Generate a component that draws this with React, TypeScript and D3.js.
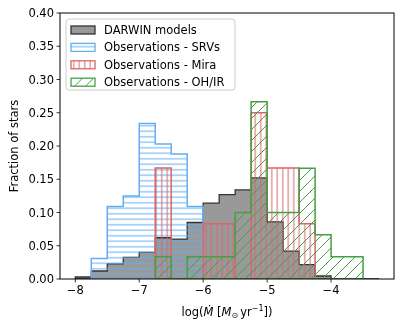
import * as d3 from 'd3';
import React from 'react';

// bins: width 0.25 starting at log Mdot = -8
const binStart = -8;
const binWidth = 0.25;

const darwin = [0.003, 0.012, 0.0226, 0.0326, 0.04, 0.062, 0.06, 0.085, 0.114, 0.127, 0.134, 0.152, 0.086, 0.042, 0.0215, 0.0045, 0, 0, 0];
const srvs = [0, 0.031, 0.109, 0.125, 0.234, 0.203, 0.188, 0.109];
const mira = [0, 0, 0, 0, 0, 0.167, 0, 0, 0.083, 0.083, 0, 0.25, 0.167, 0.167, 0.083];
const ohir = [0, 0, 0, 0, 0, 0.0333, 0, 0.0333, 0.0333, 0.0333, 0.1, 0.2667, 0.1, 0.1, 0.1667, 0.0667, 0.0333, 0.0333];

const xTicks = [-8, -7, -6, -5, -4];
const yTicks = [0, 0.05, 0.1, 0.15, 0.2, 0.25, 0.3, 0.35, 0.4];

const legendLabels = ['DARWIN models', 'Observations - SRVs', 'Observations - Mira', 'Observations - OH/IR'];

const FONT = 'DejaVu Sans, sans-serif';

export default function App() {
  const margin = { top: 13, right: 13, bottom: 50, left: 60 };
  const W = 407;
  const H = 329;
  const width = W - margin.left - margin.right;
  const height = H - margin.top - margin.bottom;

  // Scales
  const x = d3.scaleLinear().domain([-8.239, -3.016]).range([0, width]);
  const y = d3.scaleLinear().domain([0, 0.4]).range([height, 0]);

  // step outline of a histogram, trimmed of leading zero bins
  const stepPath = (vals: number[], trimEnd: boolean) => {
    const first = vals.findIndex((v) => v > 0);
    let last = vals.length - 1;
    if (trimEnd) while (last > 0 && vals[last] === 0) last--;
    const pts: [number, number][] = [];
    pts.push([x(binStart + first * binWidth), y(0)]);
    for (let i = first; i <= last; i++) {
      const x0 = x(binStart + i * binWidth);
      const x1 = x(binStart + (i + 1) * binWidth);
      pts.push([x0, y(vals[i])]);
      pts.push([x1, y(vals[i])]);
    }
    pts.push([x(binStart + (last + 1) * binWidth), y(0)]);
    return d3.line()(pts) + 'Z';
  };

  const series = [
    { vals: darwin, fill: '#999999', stroke: '#333333', sw: 1.3, trim: false },
    { vals: srvs, fill: 'url(#hatchBlue)', stroke: '#63aef2', sw: 1.5, trim: true },
    { vals: mira, fill: 'url(#hatchRed)', stroke: '#d9666a', sw: 1.5, trim: true },
    { vals: ohir, fill: 'url(#hatchGreen)', stroke: '#45a045', sw: 1.5, trim: true },
  ];

  return (
    <div style={{ position: 'fixed', left: 0, top: 0 }}>
      <svg width={W} height={H} style={{ display: 'block', fontFamily: FONT }}>
        <defs>
          <pattern id="hatchBlue" patternUnits="userSpaceOnUse" width={10} height={5.5}>
            <line x1={0} x2={10} y1={2.75} y2={2.75} stroke="#63aef2" strokeWidth={1} />
          </pattern>
          <pattern id="hatchRed" patternUnits="userSpaceOnUse" width={5.5} height={10}>
            <line x1={2.75} x2={2.75} y1={0} y2={10} stroke="#d9666a" strokeWidth={1} />
          </pattern>
          <pattern id="hatchGreen" patternUnits="userSpaceOnUse" width={11} height={11}>
            <path d="M0,11 L11,0 M-2,2 L2,-2 M9,13 L13,9" stroke="#45a045" strokeWidth={1} />
          </pattern>
          <clipPath id="plotClip">
            <rect x={0} y={0} width={width} height={height} />
          </clipPath>
        </defs>
        <g transform={`translate(${margin.left},${margin.top})`}>
          <g clipPath="url(#plotClip)">
            {series.map((s, i) => (
              <path
                key={i}
                d={stepPath(s.vals, s.trim)}
                fill={s.fill}
                stroke={s.stroke}
                strokeWidth={s.sw}
                strokeLinejoin="miter"
              />
            ))}
          </g>

          {/* frame */}
          <rect x={0} y={0} width={width} height={height} fill="none" stroke="#000" strokeWidth={1} />

          {/* x axis */}
          {xTicks.map((t) => (
            <g key={t} transform={`translate(${x(t)},${height})`}>
              <line y1={0} y2={3.5} stroke="#000" strokeWidth={0.8} />
              <text y={15} textAnchor="middle" fontSize={11.5} fill="#000">
                {'\u2212' + Math.abs(t)}
              </text>
            </g>
          ))}

          {/* y axis */}
          {yTicks.map((t) => (
            <g key={t} transform={`translate(0,${y(t)})`}>
              <line x1={0} x2={-3.5} stroke="#000" strokeWidth={0.8} />
              <text x={-6} dy="0.35em" textAnchor="end" fontSize={11.5} fill="#000">
                {t.toFixed(2)}
              </text>
            </g>
          ))}

          {/* axis labels */}
          <text x={width / 2} y={height + 37} textAnchor="middle" fontSize={11.5} fill="#000">
            <tspan>log(</tspan>
            <tspan fontStyle="italic">Ṁ</tspan>
            <tspan> [</tspan>
            <tspan fontStyle="italic">M</tspan>
            <tspan fontSize={8} dy={2}>⊙</tspan>
            <tspan dy={-2} dx={2}>yr</tspan>
            <tspan fontSize={8} dy={-5}>−1</tspan>
            <tspan dy={5}>])</tspan>
          </text>
          <text
            transform={`translate(${-42},${height / 2}) rotate(-90)`}
            textAnchor="middle"
            fontSize={11.5}
            fill="#000"
          >
            Fraction of stars
          </text>

          {/* legend */}
          <g transform="translate(6,6)">
            <rect x={0} y={0} width={169} height={71} rx={3} fill="#fff" fillOpacity={0.8} stroke="#cccccc" strokeWidth={1} />
            {legendLabels.map((lab, i) => (
              <g key={lab} transform={`translate(5,${7.5 + i * 17.4})`}>
                <rect x={0} y={-0.5} width={24} height={8} fill={series[i].fill} stroke={series[i].stroke} strokeWidth={1.3} />
                <text x={33} y={3.5} dy="0.35em" fontSize={11.5} fill="#000">
                  {lab}
                </text>
              </g>
            ))}
          </g>
        </g>
      </svg>
    </div>
  );
}
